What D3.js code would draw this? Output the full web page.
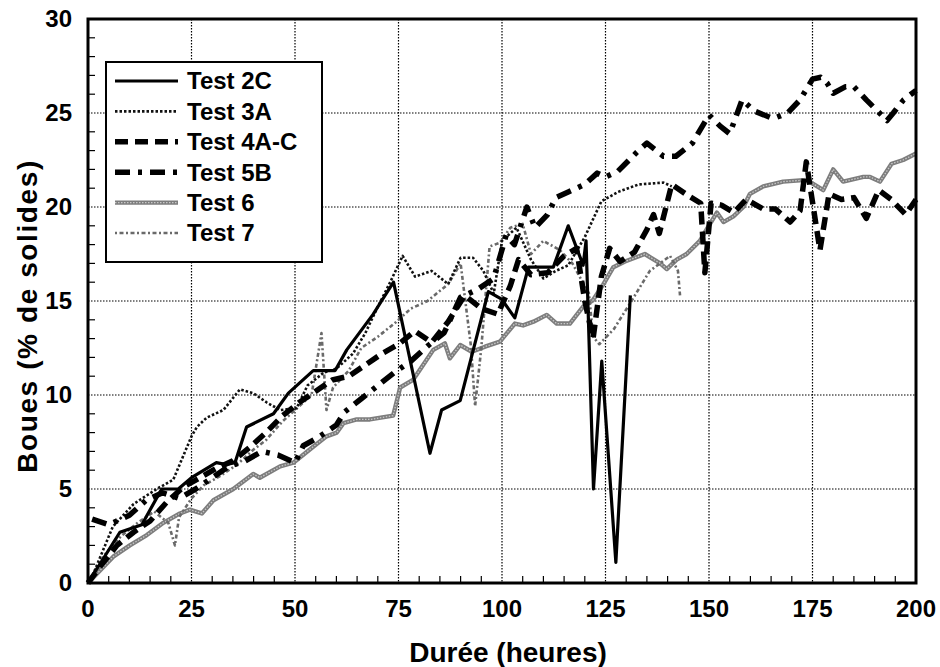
<!DOCTYPE html>
<html>
<head>
<meta charset="utf-8">
<script src="https://cdn.jsdelivr.net/npm/d3@7/dist/d3.min.js"></script>
<style>
  body { margin: 0; background: #fff; }
  text { font-family: "Liberation Sans", Arial, sans-serif; font-weight: bold; fill: #000; }
</style>
</head>
<body>
<svg id="chart" width="940" height="667"></svg>
<script>
// values, [heures, % de solides]
const xTicks = [0, 25, 50, 75, 100, 125, 150, 175, 200];
const yTicks = [0, 5, 10, 15, 20, 25, 30];
const seriesNames = ["Test 2C", "Test 3A", "Test 4A-C", "Test 5B", "Test 6", "Test 7"];

const test2C = [[0,0],[7.7,2.7],[13,3.1],[17.8,5.0],[21.8,5.0],[25,5.6],[31,6.4],[33.5,6.3],[35.5,6.4],
  [38.3,8.3],[44.8,9.0],[48.4,10.1],[54.4,11.3],[59.7,11.3],[62.5,12.4],[68.9,14.3],[70.9,15.0],[73.8,16.0],
  [82.6,6.9],[85.4,9.2],[89.9,9.7],[96.7,15.5],[99.9,15.1],[103.1,14.1],[106.4,16.8],[112.4,16.8],[116,19.0],
  [119.6,16.9],[120.3,18.2],[122.1,5.0],[124.1,11.8],[127.5,1.1],[131,15.3]];

const test3A = [[0,0],[1.3,0.5],[6,3.0],[11,4.2],[16.6,5.0],[20.6,5.5],[25,7.8],[26.3,8.3],[28.7,8.8],[32.7,9.2],
  [36.7,10.3],[39.9,10.1],[43.2,9.6],[46.4,9.2],[50.4,9.3],[53,10.5],[57,11.2],[60,11.4],[64,12.2],[67,13.3],
  [70,14.7],[73,16],[76,17.4],[79,16.3],[83,16.6],[87,15.9],[90,17.3],[93,17.3],[95.5,16.6],[98,15.4],[100,18.2],
  [103.5,18.9],[107,17.2],[110,16.2],[113,16.6],[116,16.9],[120,18.4],[124,20.3],[128,20.8],[133,21.2],[139,21.3],[141,21.1]];

const test4AC = [[0,0],[3,0.9],[7,2],[11,2.7],[15,3.3],[19,4.3],[23,5.1],[27,5.6],[31,6.1],[35,6.5],[39,7.2],[43,8],
  [47,8.9],[51,9.6],[55,10.2],[59,10.8],[63,11],[67,11.6],[71,12.2],[75,12.7],[79,13.4],[83,12.8],[87,13.9],[91,15.3],
  [95,14.6],[99,14.3],[102,15.8],[104,17.2],[107,16.4],[111,16.5],[115,17.4],[118,17.8],[120,15],[122,13],[124,16.3],
  [126,17.8],[128.5,17.1],[132,17.6],[135,18.8],[136.6,19.6],[138,18.6],[141,21.2],[145,20.6],[148,20.2],[149,16.5],
  [150.5,20.2],[153,20.1],[156,19.7],[159,20.4],[163,19.9],[166,19.9],[169.6,19.2],[172,19.8],[173.5,22.4],[176.8,17.7],
  [179,20.7],[182,20.4],[185,20.5],[188,19.4],[191,20.9],[194,20.4],[197.5,19.6],[200,20.4]];

const test5B = [[1,3.4],[5,3.1],[10,3.6],[14,4.4],[18,4.8],[22,4.5],[26,5.0],[30,5.6],[34,6.2],[38,6.5],[42,7.0],
  [46,6.8],[50,6.4],[52,7.3],[56,7.8],[60,8.4],[62,9.1],[66,9.8],[70,10.5],[74,11.2],[78,11.8],[82,12.6],[86,13.3],
  [90,15.2],[94,15.6],[98,16.2],[101,18.5],[103,18.0],[106,20.0],[108,18.9],[111,19.6],[113,20.5],[116,20.8],[120,21.2],
  [123,21.8],[125,21.6],[128,21.9],[132.5,22.9],[135,23.4],[139,22.7],[142,22.7],[146,23.4],[150,24.9],[152.7,24.3],
  [155,23.9],[158,25.7],[161,25.1],[165.5,24.7],[169,25],[172,25.7],[175,26.8],[177,26.9],[178.5,26.6],[180,26.05],
  [183,26.4],[185,26.4],[188,25.7],[193,24.6],[194.5,25],[197,25.7],[200,26.2]];

const test6 = [[0,0],[6.1,1.4],[10.1,2.0],[14.2,2.55],[18.2,3.2],[22.2,3.7],[24.6,3.9],[27.5,3.7],[30.3,4.4],[35.1,5.0],
  [39.9,5.8],[41.5,5.6],[46.4,6.2],[49.6,6.4],[54.4,7.25],[57.6,7.8],[60.1,8.0],[61.7,8.5],[64.9,8.7],[68.1,8.7],
  [73.7,8.9],[75.4,10.4],[78.5,10.8],[83.4,12.4],[86.2,12.75],[87.4,11.95],[89.9,12.66],[92.7,12.3],[95.9,12.57],
  [99.5,12.84],[103.1,13.8],[105.1,13.7],[107.6,13.9],[110.8,14.26],[113.2,13.8],[116.4,13.8],[119.6,14.7],[122,15.05],
  [124.5,15.9],[126.9,16.8],[129.7,17.1],[134.5,17.5],[138.2,17.0],[139.8,16.7],[142.2,17.2],[144.6,17.5],[147.8,18.2],
  [149.4,18.8],[151.9,19.7],[153.5,19.2],[155.9,19.5],[158.3,20.0],[159.9,20.7],[163.1,21.1],[167.9,21.35],[173.6,21.44],
  [177.6,20.9],[180,22.0],[182.4,21.35],[187.3,21.6],[188.9,21.6],[191.3,21.35],[194.1,22.3],[196.9,22.5],[200,22.85]];

const test7 = [[0,0],[4,1.5],[8,2.5],[12,3.2],[16,3.8],[19.4,3.2],[21,2.0],[22,3.5],[25,4.5],[28,5.2],[32,5.7],[36,6.3],
  [40,7.1],[43,7.6],[47,8.6],[51,9.4],[54,10],[56.4,13.3],[57.6,9.2],[59.2,10.4],[63,11.3],[66,12.5],[70,13.1],[74,13.8],
  [78,14.6],[82,15],[87,15.9],[90,17],[92.5,12.6],[93.5,9.4],[95,12.5],[97,17.9],[99.5,18.1],[102,18.9],[105,19.1],
  [107,17.5],[110,18.2],[114,17.7],[117,17],[121,15.4],[122,13.1],[123.5,12.7],[127,13.5],[131,14.9],[135.7,16.6],
  [140.6,17.4],[142.5,16.6],[143,15.3]];

const seriesData = [test2C, test3A, test4AC, test5B, test6, test7];

// line looks per series (order as seriesNames)
const styles = [
  { stroke: "#000", width: 3.2, dash: null },
  { stroke: "#111", width: 2.6, dash: "2.5,2" },
  { stroke: "#000", width: 5.5, dash: "13,7" },
  { stroke: "#000", width: 5.5, dash: "15,8,4,8" },
  { stroke: "#7d7d7d", width: 4.4, dash: null, overlay: "#c8c8c8" },
  { stroke: "#6a6a6a", width: 2.6, dash: "2,2.5,4,2.5" }
];

const svg = d3.select("#chart");
const x = d3.scaleLinear().domain([0, 200]).range([88, 916]);
const y = d3.scaleLinear().domain([0, 30]).range([583, 19]);

// grid
svg.append("g").selectAll("line")
  .data(xTicks.slice(1, -1)).enter().append("line")
  .attr("x1", d => x(d)).attr("x2", d => x(d))
  .attr("y1", y(30)).attr("y2", y(0))
  .attr("stroke", "#000").attr("stroke-width", 1.2).attr("stroke-dasharray", "1.5,1.5");
svg.append("g").selectAll("line")
  .data(yTicks.slice(1, -1)).enter().append("line")
  .attr("x1", x(0)).attr("x2", x(200))
  .attr("y1", d => y(d)).attr("y2", d => y(d))
  .attr("stroke", "#000").attr("stroke-width", 1.2).attr("stroke-dasharray", "1.5,1.5");

// minor ticks inside the frame
svg.append("g").selectAll("line")
  .data(d3.range(5, 200, 5).filter(d => d % 25 !== 0)).enter().append("line")
  .attr("x1", d => x(d)).attr("x2", d => x(d))
  .attr("y1", y(0)).attr("y2", y(0) - 7)
  .attr("stroke", "#000").attr("stroke-width", 1.2);
svg.append("g").selectAll("line")
  .data(d3.range(1, 30).filter(d => d % 5 !== 0)).enter().append("line")
  .attr("x1", x(0)).attr("x2", x(0) + 7)
  .attr("y1", d => y(d)).attr("y2", d => y(d))
  .attr("stroke", "#000").attr("stroke-width", 1.2);

// series
const line = d3.line().x(d => x(d[0])).y(d => y(d[1]));
const plot = svg.append("g");
// draw grey ones first so black ones sit on top
[4, 5, 1, 2, 3, 0].forEach(i => {
  const s = styles[i];
  plot.append("path")
    .attr("d", line(seriesData[i]))
    .attr("fill", "none")
    .attr("stroke", s.stroke)
    .attr("stroke-width", s.width)
    .attr("stroke-dasharray", s.dash)
    .attr("stroke-linejoin", "round");
  if (s.overlay) {
    plot.append("path")
      .attr("d", line(seriesData[i]))
      .attr("fill", "none")
      .attr("stroke", s.overlay)
      .attr("stroke-width", 1.3)
      .attr("stroke-dasharray", "1.5,1.5");
  }
});

// frame
svg.append("rect")
  .attr("x", x(0)).attr("y", y(30))
  .attr("width", x(200) - x(0)).attr("height", y(0) - y(30))
  .attr("fill", "none").attr("stroke", "#000").attr("stroke-width", 3);

// tick labels
svg.append("g").selectAll("text")
  .data(xTicks).enter().append("text")
  .attr("x", d => x(d)).attr("y", 617)
  .attr("text-anchor", "middle")
  .style("font-size", "24px")
  .text(d => d);
svg.append("g").selectAll("text")
  .data(yTicks).enter().append("text")
  .attr("x", 72).attr("y", d => y(d))
  .attr("text-anchor", "end")
  .attr("dy", "0.35em")
  .style("font-size", "24px")
  .text(d => d);

// axis titles
svg.append("text")
  .attr("x", 508).attr("y", 662)
  .attr("text-anchor", "middle")
  .style("font-size", "28px")
  .text("Durée (heures)");
svg.append("text")
  .attr("transform", "translate(37,316) rotate(-90)")
  .attr("text-anchor", "middle")
  .style("font-size", "28px")
  .style("letter-spacing", "1.6px")
  .text("Boues (% de solides)");

// legend
const legend = svg.append("g");
legend.append("rect")
  .attr("x", 106).attr("y", 62).attr("width", 216).attr("height", 200)
  .attr("fill", "#fff").attr("stroke", "#000").attr("stroke-width", 2);
seriesNames.forEach((name, i) => {
  const ly = 81 + i * 30.4;
  const s = styles[i];
  legend.append("line")
    .attr("x1", 115).attr("x2", 178).attr("y1", ly).attr("y2", ly)
    .attr("stroke", s.stroke).attr("stroke-width", s.width)
    .attr("stroke-dasharray", s.dash);
  if (s.overlay) {
    legend.append("line")
      .attr("x1", 115).attr("x2", 178).attr("y1", ly).attr("y2", ly)
      .attr("stroke", s.overlay).attr("stroke-width", 1.3)
      .attr("stroke-dasharray", "1.5,1.5");
  }
  legend.append("text")
    .attr("x", 187).attr("y", ly)
    .attr("dy", "0.35em")
    .style("font-size", "24px")
    .text(name);
});
</script>
</body>
</html>
